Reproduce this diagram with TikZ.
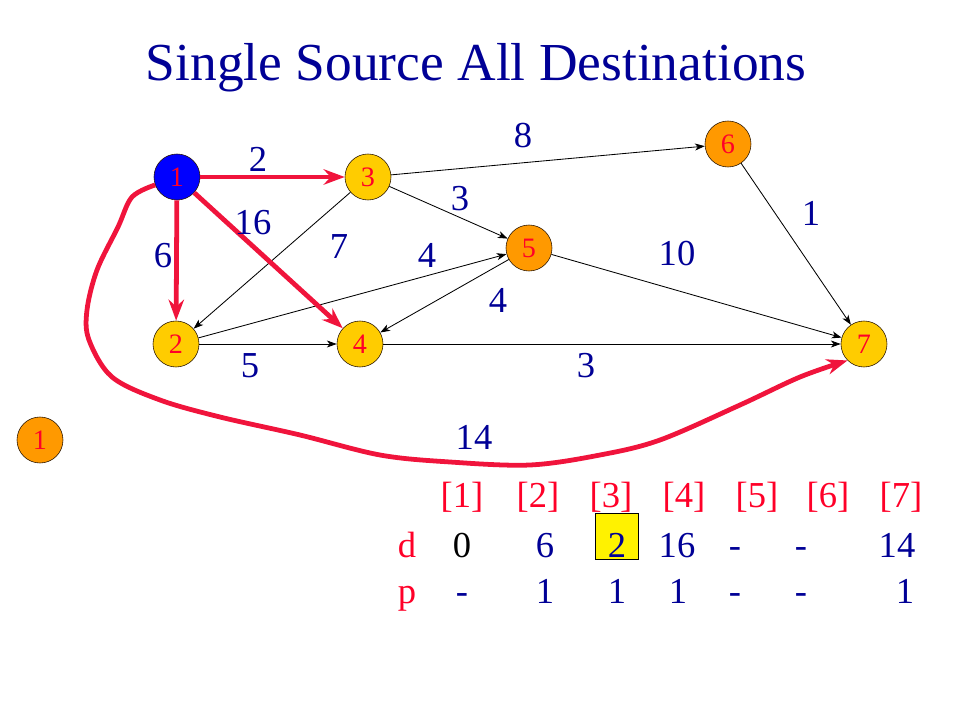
\documentclass[tikz,border=0pt]{standalone}
\usepackage{fontspec}
\setmainfont{Liberation Serif}
\usetikzlibrary{arrows.meta}
\definecolor{navytext}{RGB}{0,0,150}
\definecolor{redtext}{RGB}{255,0,40}
\definecolor{redpath}{RGB}{240,20,60}
\definecolor{goldnode}{RGB}{255,204,0}
\definecolor{orangenode}{RGB}{255,153,0}
\begin{document}
\begin{tikzpicture}[x=0.025cm,y=-0.025cm,
  vertex/.style={circle,draw=black!85!orange,fill=goldnode,minimum size=1.15cm,inner sep=0pt,
    text=redtext,text height=13.5pt,text depth=0pt,font=\fontsize{20}{20}\selectfont},
  hot/.style={vertex,fill=orangenode},
  weight/.style={text=navytext,inner sep=0pt,text height=17.6pt,text depth=0pt,font=\fontsize{26}{26}\selectfont},
  entry/.style={weight},
  index/.style={weight,text=redtext},
  edge/.style={line width=0.6pt,-{Stealth[length=7pt,width=5pt,inset=2pt]}},
  bestedge/.style={draw=redpath,line width=3.4pt,-{Stealth[length=15pt,width=11pt,inset=5pt]}}]
\useasboundingbox (0,0) rectangle (960,720);
\node[text=navytext,font=\fontsize{38}{38}\selectfont,text height=25pt,text depth=0pt] (title) at (476,63) {Single Source All Destinations};
% vertices
\node[vertex,fill=blue] (n1) at (177,177) {1};
\node[vertex] (n2) at (176,344) {2};
\node[vertex] (n3) at (368,177) {3};
\node[vertex] (n4) at (360,344) {4};
\node[hot] (n5) at (529,248) {5};
\node[hot] (n6) at (728,144) {6};
\node[vertex] (n7) at (864,344) {7};
\node[hot] (s1) at (40,440) {1};
% edges
\draw[edge] (n3) -- (n6);
\draw[edge] (n3) -- (n5);
\draw[edge] (n3) -- (n2);
\draw[edge] (n2) -- (n5);
\draw[edge] (n5) -- (n4);
\draw[edge] (n2) -- (n4);
\draw[edge] (n4) -- (n7);
\draw[edge] (n5) -- (n7);
\draw[edge] (n6) -- (n7);
\draw[bestedge] (n1) -- (n3);
\draw[bestedge] (n1) -- (n2);
\draw[bestedge] (n1) -- (n4);
\draw[bestedge] plot[smooth,tension=0.55] coordinates {(n1.200) (132,197) (118,227) (97,270) (87,310) (89,340) (112,377) (160,400) (220,417) (300,435) (380,455) (450,462) (530,465) (600,455) (660,440) (740,405) (800,377) (n7.225)};
% weights
\node[weight] (w13) at (258,159) {2};
\node[weight] (w14) at (253,222) {16};
\node[weight] (w12) at (163,255) {6};
\node[weight] (w32) at (339,246) {7};
\node[weight] (w35) at (460,198) {3};
\node[weight] (w36) at (523,135) {8};
\node[weight] (w25) at (427,255) {4};
\node[weight] (w54) at (498,300) {4};
\node[weight] (w57) at (677,253) {10};
\node[weight] (w67) at (811,213) {1};
\node[weight] (w24) at (250,365) {5};
\node[weight] (w47) at (586,365) {3};
\node[weight] (w17) at (474,437) {14};
% table
\node[index] (h1) at (462,495) {[1]};
\node[index] (h2) at (538,495) {[2]};
\node[index] (h3) at (611,495) {[3]};
\node[index] (h4) at (684,495) {[4]};
\node[index] (h5) at (757,495) {[5]};
\node[index] (h6) at (828,495) {[6]};
\node[index] (h7) at (901,495) {[7]};
\draw[fill=yellow] (595,513) rectangle (638,559);
\node[index] (dlab) at (407,545) {d};
\node[entry,text=black] (d1) at (462,545) {0};
\node[entry] (d2) at (545,545) {6};
\node[entry] (d3) at (617,545) {2};
\node[entry] (d4) at (677,545) {16};
\node[entry] (d5) at (735,545) {-};
\node[entry] (d6) at (801,545) {-};
\node[entry] (d7) at (897,545) {14};
\node[index] (plab) at (407,591) {p};
\node[entry] (p1) at (462,591) {-};
\node[entry] (p2) at (545,591) {1};
\node[entry] (p3) at (617,591) {1};
\node[entry] (p4) at (678,591) {1};
\node[entry] (p5) at (735,591) {-};
\node[entry] (p6) at (801,591) {-};
\node[entry] (p7) at (905,591) {1};
\end{tikzpicture}
\end{document}
